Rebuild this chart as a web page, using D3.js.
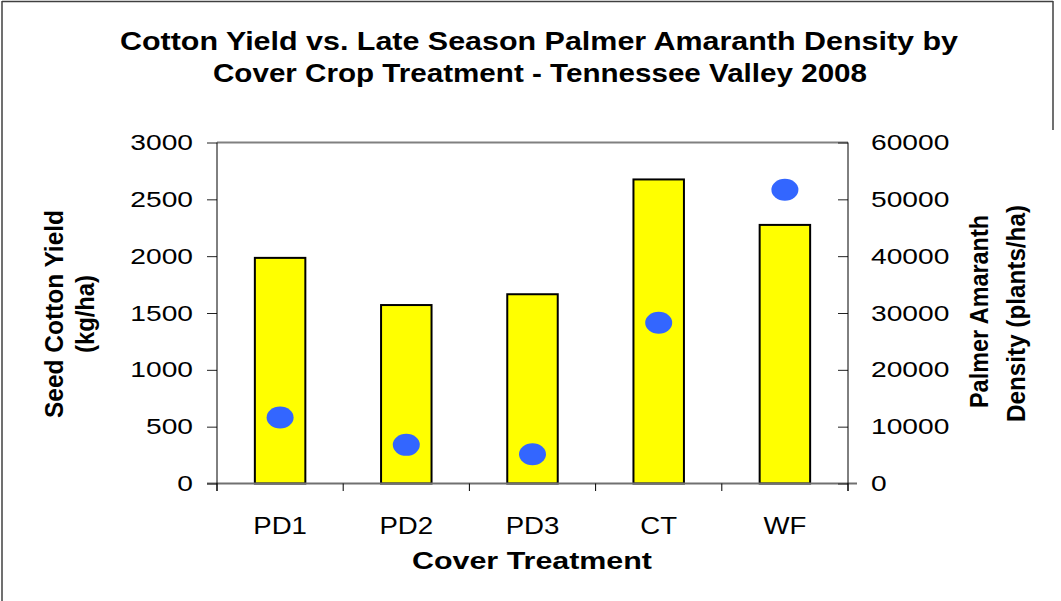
<!DOCTYPE html>
<html lang="en">
<head>
<meta charset="utf-8">
<title>Cotton Yield vs. Palmer Amaranth Density</title>
<script src="https://d3js.org/d3.v7.min.js"></script>
<style>
  body { margin: 0; background: #fff; }
  svg { display: block; font-family: "Liberation Sans", Arial, sans-serif; }
</style>
</head>
<body>
<script>
// data
var treatments = ["PD1", "PD2", "PD3", "CT", "WF"];
var cottonYield = [1985, 1570, 1665, 2675, 2275];      // kg/ha, left axis
var amaranthDensity = [11600, 6800, 5150, 28300, 51700]; // plants/ha, right axis
var yieldTicks = [0, 500, 1000, 1500, 2000, 2500, 3000];
var densityTicks = [0, 10000, 20000, 30000, 40000, 50000, 60000];

var w = 1061, h = 601;
var plot = {left: 217, right: 848, top: 142.5, bottom: 483.5};

var svg = d3.select("body").append("svg")
  .attr("width", w)
  .attr("height", h);

// stretch a text element horizontally to a factor of its natural length
function stretch(sel, k) {
  sel.each(function() {
    var len = this.getComputedTextLength();
    d3.select(this).attr("textLength", len * k).attr("lengthAdjust", "spacingAndGlyphs");
  });
}

// outer frame (top, left, part of right)
svg.append("line").attr("x1", 2).attr("x2", 1053).attr("y1", 1.5).attr("y2", 1.5)
  .attr("stroke", "#404040").attr("stroke-width", 1.5);
svg.append("line").attr("x1", 2).attr("x2", 2).attr("y1", 1).attr("y2", h)
  .attr("stroke", "#404040").attr("stroke-width", 1.5);
svg.append("line").attr("x1", 1053).attr("x2", 1053).attr("y1", 1).attr("y2", 130)
  .attr("stroke", "#404040").attr("stroke-width", 1.5);

// scales
var x = d3.scaleBand()
  .domain(treatments)
  .range([plot.left, plot.right])
  .paddingInner(0.6)
  .paddingOuter(0.3);

var yL = d3.scaleLinear().domain([0, 3000]).range([plot.bottom, plot.top]);
var yR = d3.scaleLinear().domain([0, 60000]).range([plot.bottom, plot.top]);

// top border of plot area
svg.append("line")
  .attr("x1", plot.left).attr("x2", plot.right)
  .attr("y1", yL(3000)).attr("y2", yL(3000))
  .attr("stroke", "#808080").attr("stroke-width", 2);

// bars
svg.append("g").selectAll("rect")
  .data(treatments)
  .join("rect")
  .attr("x", function(d) { return x(d); })
  .attr("width", x.bandwidth())
  .attr("y", function(d, i) { return yL(cottonYield[i]); })
  .attr("height", function(d, i) { return yL(0) - yL(cottonYield[i]); })
  .attr("fill", "#ffff00")
  .attr("stroke", "#000")
  .attr("stroke-width", 2);

// density dots
svg.append("g").selectAll("ellipse")
  .data(treatments)
  .join("ellipse")
  .attr("cx", function(d) { return x(d) + x.bandwidth() / 2; })
  .attr("cy", function(d, i) { return yR(amaranthDensity[i]); })
  .attr("rx", 13.5)
  .attr("ry", 11)
  .attr("fill", "#3366ff");

// x axis line and category boundary ticks
var step = x.step();
var x0 = plot.left;
svg.append("line")
  .attr("x1", plot.left - 10).attr("x2", plot.right + 9)
  .attr("y1", yL(0)).attr("y2", yL(0))
  .attr("stroke", "#707070").attr("stroke-width", 2);
svg.append("g").selectAll("line")
  .data(d3.range(treatments.length + 1))
  .join("line")
  .attr("x1", function(i) { return x0 + i * step; })
  .attr("x2", function(i) { return x0 + i * step; })
  .attr("y1", yL(0)).attr("y2", yL(0) + 7.5)
  .attr("stroke", "#000");

// category labels
var xl = svg.append("g").selectAll("text")
  .data(treatments)
  .join("text")
  .attr("x", function(d) { return x(d) + x.bandwidth() / 2; })
  .attr("y", 534)
  .attr("text-anchor", "middle")
  .attr("font-size", 23)
  .attr("fill", "#000")
  .text(function(d) { return d; });
stretch(xl, 1.2);

// left axis
var axL = svg.append("g")
  .attr("transform", "translate(" + plot.left + ",0)")
  .call(d3.axisLeft(yL).tickValues(yieldTicks).tickFormat(d3.format("d"))
    .tickSize(10).tickSizeOuter(0).tickPadding(14));
axL.select(".domain").remove();
axL.append("line").attr("y1", plot.top).attr("y2", yL(0) + 7.5).attr("stroke", "#000");
axL.selectAll(".tick line").attr("stroke", "#222");
axL.selectAll("text").attr("font-size", 22).attr("font-family", "Liberation Sans, Arial, sans-serif").attr("fill", "#000");
stretch(axL.selectAll("text"), 1.28);

// right axis
var axR = svg.append("g")
  .attr("transform", "translate(" + plot.right + ",0)")
  .call(d3.axisRight(yR).tickValues(densityTicks).tickFormat(d3.format("d"))
    .tickSize(-10).tickSizeOuter(0).tickPadding(23));
axR.select(".domain").remove();
axR.append("line").attr("y1", plot.top).attr("y2", yR(0) + 7.5).attr("stroke", "#000");
axR.selectAll(".tick line").attr("stroke", "#222");
axR.selectAll("text").attr("font-size", 22).attr("font-family", "Liberation Sans, Arial, sans-serif").attr("fill", "#000");
stretch(axR.selectAll("text"), 1.28);

// titles
function fitText(txt, xPos, yPos, len, size, rot) {
  var t = svg.append("text")
    .attr("transform", "translate(" + xPos + "," + yPos + ")" + (rot ? " rotate(-90)" : ""))
    .attr("font-size", size)
    .attr("font-weight", "bold")
    .attr("fill", "#000")
    .attr("textLength", len)
    .attr("lengthAdjust", "spacingAndGlyphs")
    .text(txt);
  return t;
}

fitText("Cotton Yield vs. Late Season Palmer Amaranth Density by", 120, 49.5, 838, 26, false);
fitText("Cover Crop Treatment - Tennessee Valley 2008", 213, 81.5, 654, 26, false);
fitText("Cover Treatment", 412, 568.5, 240, 24, false);

fitText("Seed Cotton Yield", 63, 418, 208, 25, true);
fitText("(kg/ha)", 94, 353, 78, 25, true);
fitText("Palmer Amaranth", 988, 408, 193, 25, true);
fitText("Density (plants/ha)", 1025, 422, 217, 25, true);
</script>
</body>
</html>
